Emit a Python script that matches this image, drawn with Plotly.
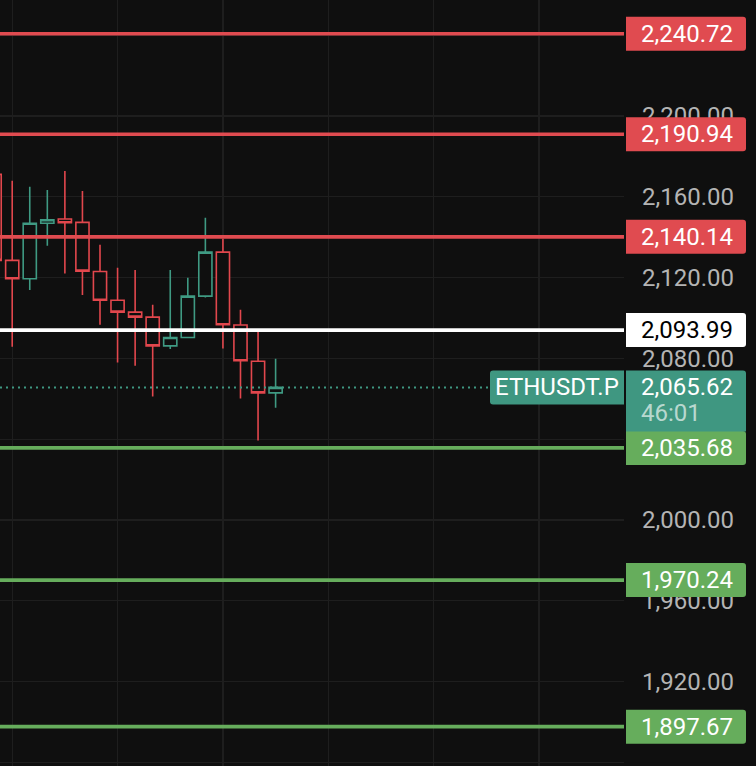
import plotly.graph_objects as go

# ---- data ----
bar_index = list(range(17))
opens  = [2171.1, 2128.5, 2119.4, 2146.9, 2149.0, 2147.3, 2123.0, 2108.8, 2102.9, 2100.4,
          2086.2, 2090.3, 2110.8, 2132.6, 2096.5, 2078.6, 2062.9]
highs  = [2175.0, 2167.9, 2164.9, 2163.4, 2172.8, 2162.9, 2136.2, 2124.8, 2123.8, 2106.5,
          2123.8, 2119.9, 2149.6, 2139.2, 2104.0, 2093.1, 2079.8]
lows   = [2124.0, 2085.7, 2113.9, 2135.8, 2122.0, 2111.4, 2096.6, 2077.9, 2076.4, 2061.1,
          2084.6, 2089.9, 2110.1, 2084.9, 2060.1, 2039.3, 2055.6]
closes = [2128.5, 2119.4, 2146.9, 2148.6, 2147.1, 2123.2, 2108.8, 2102.9, 2100.4, 2086.2,
          2090.3, 2110.8, 2132.6, 2096.6, 2078.8, 2062.9, 2065.62]

resistance_levels = [2240.72, 2190.94, 2140.14]
pivot_level = [2093.99]
support_levels = [2035.68, 1970.24, 1897.67]

symbol = "ETHUSDT.P"
current_price = 2065.62
countdown = "46:01"
grid_bars = [1, 7, 13, 19, 25, 31]

price_ticks = [1880, 1920, 1960, 2000, 2040, 2080, 2120, 2160, 2200, 2240]
hidden_ticks = [2040, 2240]  # fully covered by the price labels on the scale
price_tick_text = ["" if t in hidden_ticks else f"{t:,.2f}" for t in price_ticks]

# ---- style ----
BG = "#0f0f0f"
GRID = "#1e1e1e"
RED = "#e04b50"
GREEN = "#66ad5c"
TEAL = "#3f9781"
CANDLE_UP = "#3f9a83"
CANDLE_DN = "#e2474d"
FONT = "Roboto"
W, H = 756, 766
PLOT_R = 624
BOX_L, BOX_W = 626, 120
TEXT_L = 641
R = 3  # corner radius px


def box_path(w, top, bot, round_right=True, round_bottom=True):
    """Rounded box path in pixel offsets (x from anchor, y up positive)."""
    if round_right:
        p = (f"M0,{top} L{w-R},{top} Q{w},{top} {w},{top-R} ")
        if round_bottom:
            p += f"L{w},{bot+R} Q{w},{bot} {w-R},{bot} "
        else:
            p += f"L{w},{bot} "
        p += f"L0,{bot} Z"
    else:
        p = (f"M{w},{top} L{R},{top} Q0,{top} 0,{top-R} "
             f"L0,{bot+R} Q0,{bot} {R},{bot} L{w},{bot} Z")
    return p


fig = go.Figure()
fig.add_trace(go.Candlestick(
    x=bar_index, open=opens, high=highs, low=lows, close=closes,
    increasing=dict(line=dict(color=CANDLE_UP, width=1.6), fillcolor=BG),
    decreasing=dict(line=dict(color=CANDLE_DN, width=1.6), fillcolor=BG),
    whiskerwidth=0, hoverinfo="skip", showlegend=False,
))

shapes = []
annotations = []

# current price dotted line
shapes.append(dict(type="line", xref="paper", x0=0, x1=490 / W, yref="y",
                   y0=current_price, y1=current_price,
                   line=dict(color=TEAL, width=2, dash="2px,4px"), layer="above"))

levels = ([(v, RED, "white") for v in resistance_levels]
          + [(v, "#ffffff", "black") for v in pivot_level]
          + [(v, GREEN, "white") for v in support_levels])

for v, col, tcol in levels:
    shapes.append(dict(type="line", xref="x domain", x0=0, x1=1, yref="y", y0=v, y1=v,
                       line=dict(color=col, width=3.6), layer="above"))
    shapes.append(dict(type="path", xref="paper", xsizemode="pixel", xanchor=BOX_L / W,
                       yref="y", ysizemode="pixel", yanchor=v,
                       path=box_path(BOX_W, 17, -17),
                       fillcolor=col, line=dict(width=0), layer="above"))
    annotations.append(dict(text=f"{v:,.2f}", xref="paper", x=TEXT_L / W, xanchor="left",
                            yref="y", y=v, yanchor="middle", showarrow=False,
                            borderpad=0, borderwidth=0,
                            font=dict(family=FONT, size=24, color=tcol)))

# current price label (two rows)
shapes.append(dict(type="path", xref="paper", xsizemode="pixel", xanchor=BOX_L / W,
                   yref="y", ysizemode="pixel", yanchor=current_price,
                   path=box_path(BOX_W, 17, -44, round_bottom=False),
                   fillcolor=TEAL, line=dict(width=0), layer="above"))
annotations.append(dict(text=f"{current_price:,.2f}", xref="paper", x=TEXT_L / W, xanchor="left",
                        yref="y", y=current_price, yanchor="middle", showarrow=False,
                        borderpad=0, borderwidth=0,
                        font=dict(family=FONT, size=24, color="white")))
annotations.append(dict(text=countdown, xref="paper", x=TEXT_L / W, xanchor="left",
                        yref="y", y=current_price, yanchor="middle", yshift=-26, showarrow=False,
                        borderpad=0, borderwidth=0,
                        font=dict(family=FONT, size=24, color="rgba(255,255,255,0.65)")))
# symbol label
shapes.append(dict(type="path", xref="paper", xsizemode="pixel", xanchor=490 / W,
                   yref="y", ysizemode="pixel", yanchor=current_price,
                   path=box_path(PLOT_R - 490, 17, -17, round_right=False),
                   fillcolor=TEAL, line=dict(width=0), layer="above"))
annotations.append(dict(text=symbol, xref="paper", x=557 / W, xanchor="center",
                        yref="y", y=current_price, yanchor="middle", showarrow=False,
                        borderpad=0, borderwidth=0,
                        font=dict(family=FONT, size=24, color="white")))

fig.update_layout(
    width=W, height=H, margin=dict(l=0, r=0, t=0, b=0),
    paper_bgcolor=BG, plot_bgcolor=BG,
    boxgap=0.25, boxgroupgap=0,
    shapes=shapes, annotations=annotations,
    hovermode=False, dragmode=False,
    xaxis=dict(domain=[0, PLOT_R / W], range=[0.305, 35.84], rangeslider=dict(visible=False),
               tickvals=grid_bars, showticklabels=False, showgrid=True, gridcolor=GRID,
               gridwidth=1.2, zeroline=False, showline=False, ticks=""),
    yaxis=dict(side="right", range=[1878.2, 2257.4], tickvals=price_ticks,
               ticktext=price_tick_text,
               showgrid=True, gridcolor=GRID, gridwidth=1.2, zeroline=False, showline=False,
               ticks="", ticklabelstandoff=17, automargin=False,
               tickfont=dict(family=FONT, size=24, color="#b4b4b4")),
)

fig.write_html(
    "out.html",
    config=dict(displayModeBar=False, staticPlot=True),
    post_script="document.body.style.margin='0';document.body.style.padding='0';"
                "document.body.style.background='#0f0f0f';",
)
